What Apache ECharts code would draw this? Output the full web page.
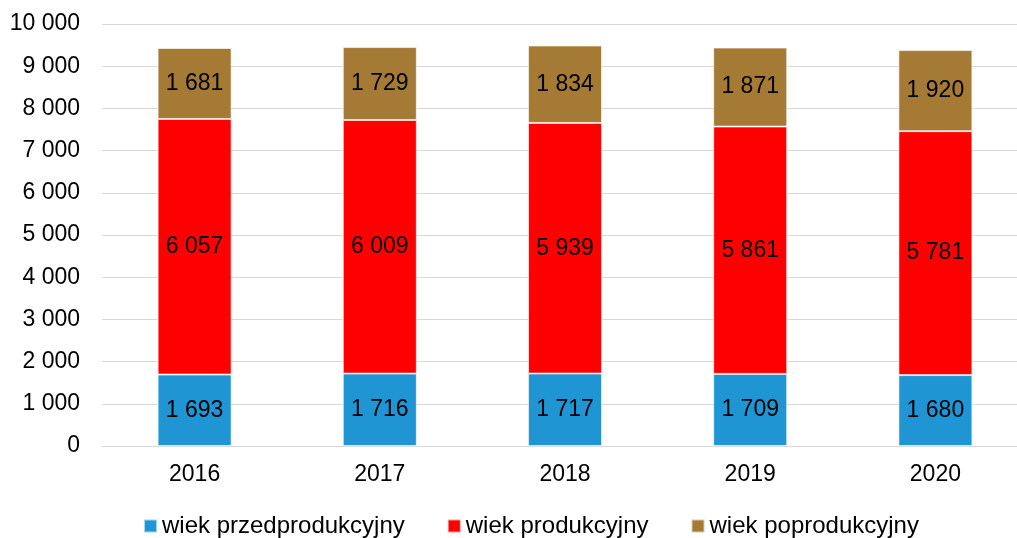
<!DOCTYPE html>
<html>
<head>
<meta charset="utf-8">
<script src="https://cdn.jsdelivr.net/npm/echarts@6/dist/echarts.min.js"></script>
<style>
  html, body { margin: 0; padding: 0; background: #fff; }
  #chart { width: 1017px; height: 538px; }
</style>
</head>
<body>
<div id="chart"></div>
<script>
// Data
const years = ['2016', '2017', '2018', '2019', '2020'];
const przedprodukcyjny = [1693, 1716, 1717, 1709, 1680];
const produkcyjny = [6057, 6009, 5939, 5861, 5781];
const poprodukcyjny = [1681, 1729, 1834, 1871, 1920];
const seriesNames = ['wiek przedprodukcyjny', 'wiek produkcyjny', 'wiek poprodukcyjny'];
const colors = ['#1f95d3', '#ff0000', '#a57a34'];

const font = 'Liberation Sans, Arial, sans-serif';

// 1 234 style formatting
function fmt(v) {
    return String(v).replace(/\B(?=(\d{3})+(?!\d))/g, ' ');
}

const chart = echarts.init(document.getElementById('chart'));

function makeSeries(name, data, color) {
    return {
        name: name,
        type: 'bar',
        stack: 'total',
        data: data,
        barWidth: 74,
        itemStyle: {
            color: color,
            borderColor: 'rgba(255,255,255,0.6)',
            borderWidth: 1
        },
        label: {
            show: true,
            position: 'inside',
            color: '#000',
            fontFamily: font,
            fontSize: 23,
            formatter: p => fmt(p.value)
        }
    };
}

chart.setOption({
    animation: false,
    // plot area runs past the right edge in the reference
    grid: { left: 102, width: 926, top: 24, bottom: 92, outerBoundsMode: 'none', containLabel: false },
    legend: {
        top: 514,
        left: 143,
        padding: 0,
        itemWidth: 13,
        itemHeight: 13,
        itemGap: 42,
        icon: 'rect',
        textStyle: { fontFamily: font, fontSize: 24, color: '#000' },
        data: seriesNames
    },
    xAxis: {
        type: 'category',
        data: years,
        axisLine: { lineStyle: { color: '#d9d9d9', width: 1 } },
        axisTick: { show: false },
        axisLabel: { color: '#000', fontFamily: font, fontSize: 23, margin: 17 }
    },
    yAxis: {
        type: 'value',
        min: 0,
        max: 10000,
        interval: 1000,
        axisLine: { show: false },
        axisTick: { show: false },
        splitLine: { lineStyle: { color: '#d9d9d9', width: 1 } },
        axisLabel: {
            color: '#000',
            fontFamily: font,
            fontSize: 23,
            margin: 22,
            formatter: v => fmt(v)
        }
    },
    series: [
        makeSeries(seriesNames[0], przedprodukcyjny, colors[0]),
        makeSeries(seriesNames[1], produkcyjny, colors[1]),
        makeSeries(seriesNames[2], poprodukcyjny, colors[2])
    ]
});
</script>
</body>
</html>
